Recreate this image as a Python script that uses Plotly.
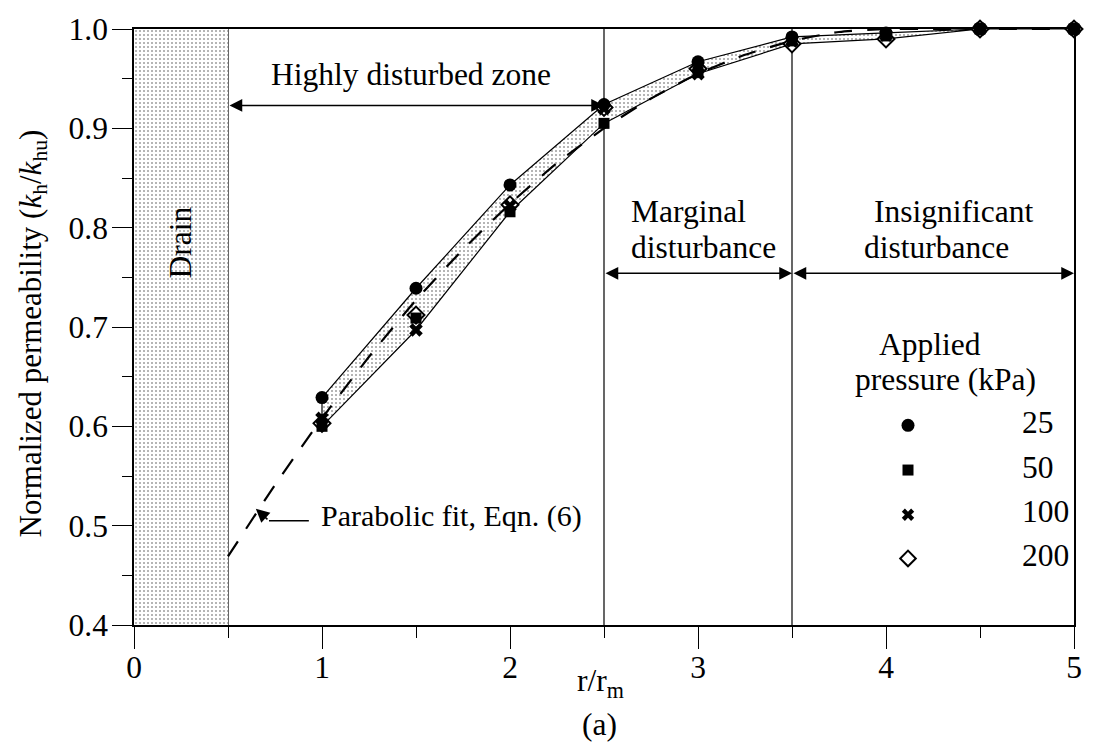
import plotly.graph_objects as go
import numpy as np

# ---------------- data ----------------
r_ratio = [1.0, 1.5, 2.0, 2.5, 3.0, 3.5, 4.0, 4.5, 5.0]
k_25 = [0.629, 0.739, 0.843, 0.924, 0.967, 0.992, 0.996, 1.000, 1.000]
k_50 = [0.600, 0.709, 0.816, 0.905, 0.957, 0.988, 0.993, 1.000, 1.000]
k_100 = [0.608, 0.697, 0.822, 0.920, 0.955, 0.988, 0.994, 1.000, 1.000]
k_200 = [0.603, 0.712, 0.823, 0.921, 0.960, 0.985, 0.990, 1.000, 1.000]

fit_x = [0.5, 0.75, 1.0, 1.25, 1.5, 1.75, 2.0, 2.25, 2.5, 2.75, 3.0, 3.25, 3.5, 3.75, 4.0, 4.5, 5.0]
fit_y = [0.469, 0.541, 0.608, 0.670, 0.727, 0.778, 0.824, 0.865, 0.900, 0.930, 0.955, 0.974, 0.988, 0.997, 1.000, 1.000, 1.000]

drain_x = [0.0, 0.5]
zone_bounds = [0.5, 2.5, 3.5, 5.0]
pressures = ["25", "50", "100", "200"]

x_ticks = [0, 1, 2, 3, 4, 5]
y_ticks = [0.4, 0.5, 0.6, 0.7, 0.8, 0.9, 1.0]

# ---------------- style ----------------
FONT = "Liberation Serif"
FS = 31.5
BLACK = "black"
Y0, Y1 = 0.4, 1.0

fig = go.Figure()

stipple = dict(shape=".", fgcolor="#333333", bgcolor="white", size=4, solidity=0.09, fillmode="replace")

# drain zone
fig.add_trace(go.Scatter(
    x=[drain_x[0], drain_x[1], drain_x[1], drain_x[0], drain_x[0]],
    y=[Y0, Y0, Y1, Y1, Y0],
    mode="none", fill="toself", fillpattern=stipple, fillcolor="rgba(0,0,0,0)",
    showlegend=False, hoverinfo="skip"))

# band between min and max
allk = np.array([k_25, k_50, k_100, k_200])
upper = allk.max(axis=0)
lower = allk.min(axis=0)
band_x = list(r_ratio) + list(r_ratio[::-1]) + [r_ratio[0]]
band_y = list(upper) + list(lower[::-1]) + [upper[0]]
fig.add_trace(go.Scatter(
    x=band_x, y=band_y,
    mode="lines", fill="toself", fillpattern=stipple, fillcolor="rgba(0,0,0,0)",
    line=dict(color=BLACK, width=1.2), showlegend=False, hoverinfo="skip"))

# parabolic fit
fig.add_trace(go.Scatter(
    x=fit_x, y=fit_y, mode="lines",
    line=dict(color=BLACK, width=2.2, dash="18px,15px", shape="spline", smoothing=0.6),
    showlegend=False, hoverinfo="skip"))

# markers (diamonds underneath)
marker_specs = [
    (k_200, dict(symbol="diamond", size=13, color="white", line=dict(color=BLACK, width=2))),
    (k_100, dict(symbol="x", size=12, color=BLACK, line=dict(width=0))),
    (k_50, dict(symbol="square", size=11, color=BLACK, line=dict(width=0))),
    (k_25, dict(symbol="circle", size=13, color=BLACK, line=dict(width=0))),
]
for vals, mk in marker_specs:
    fig.add_trace(go.Scatter(x=r_ratio, y=vals, mode="markers", marker=mk,
                             cliponaxis=False, showlegend=False))

# manual legend
leg_x = 4.117
leg_text_x = 4.715
leg_y = [0.601, 0.556, 0.511, 0.467]
leg_specs = [
    dict(symbol="circle", size=13, color=BLACK, line=dict(width=0)),
    dict(symbol="square", size=11, color=BLACK, line=dict(width=0)),
    dict(symbol="x", size=11, color=BLACK, line=dict(width=0)),
    dict(symbol="diamond-open", size=12, color=BLACK, line=dict(color=BLACK, width=2)),
]
for ly, mk, lab in zip(leg_y, leg_specs, pressures):
    fig.add_trace(go.Scatter(x=[leg_x], y=[ly], mode="markers", marker=mk,
                             showlegend=False, hoverinfo="skip"))
    fig.add_annotation(x=leg_text_x, y=ly + 0.003, xref="x", yref="y", text=lab, showarrow=False,
                       xanchor="left", yanchor="middle", font=dict(family=FONT, size=FS, color=BLACK))

fig.add_annotation(x=4.233, y=0.682, xref="x", yref="y", text="Applied", showarrow=False,
                   xanchor="center", yanchor="middle", font=dict(family=FONT, size=FS, color=BLACK))
fig.add_annotation(x=4.318, y=0.647, xref="x", yref="y", text="pressure (kPa)", showarrow=False,
                   xanchor="center", yanchor="middle", font=dict(family=FONT, size=FS, color=BLACK))

# vertical zone lines
for xb in zone_bounds[:3]:
    fig.add_shape(type="line", x0=xb, x1=xb, y0=Y0, y1=Y1, xref="x", yref="y",
                  line=dict(color=BLACK, width=1.2), layer="below")

# double arrows
def darrow(xa, xb, y):
    fig.add_annotation(x=xb, y=y, ax=xa, ay=y, xref="x", yref="y", axref="x", ayref="y",
                       text="", showarrow=True, arrowhead=2, startarrowhead=2, arrowside="end+start",
                       arrowsize=1.7, startarrowsize=1.7, arrowwidth=1.5, arrowcolor=BLACK,
                       standoff=0, startstandoff=0)

darrow(zone_bounds[0], zone_bounds[1], 0.923)
darrow(zone_bounds[1], zone_bounds[2], 0.754)
darrow(zone_bounds[2], zone_bounds[3], 0.754)

def txt(x, y, s, xanchor="center", textangle=0, xref="x", yref="y", size=FS):
    fig.add_annotation(x=x, y=y, xref=xref, yref=yref, text=s, showarrow=False,
                       xanchor=xanchor, yanchor="middle", textangle=textangle,
                       font=dict(family=FONT, size=size, color=BLACK))

txt(1.471, 0.954, "Highly disturbed zone")
txt(2.631, 0.816, "Marginal", xanchor="left")
txt(2.631, 0.780, "disturbance", xanchor="left")
txt(3.925, 0.816, "Insignificant", xanchor="left")
txt(3.872, 0.780, "disturbance", xanchor="left")
txt(0.25, 0.785, "Drain", textangle=-90)
txt(0.983, 0.510, "Parabolic fit, Eqn. (6)", xanchor="left", size=30)

# parabolic pointer
fig.add_shape(type="line", x0=0.718, x1=0.930, y0=0.505, y1=0.505, xref="x", yref="y",
              line=dict(color=BLACK, width=1.5))
fig.add_annotation(x=0.648, y=0.517, ax=0.718, ay=0.505, xref="x", yref="y", axref="x", ayref="y",
                   text="", showarrow=True, arrowhead=2, arrowsize=1.8, arrowwidth=1.5,
                   arrowcolor=BLACK, standoff=0)

# axis titles
txt(-0.108, 0.49, "Normalized permeability (<i>k</i><sub>h</sub>/<i>k</i><sub>hu</sub>)",
    textangle=-90, xref="paper", yref="paper", size=31)
txt(0.496, -0.097, "r/r<sub>m</sub>", xref="paper", yref="paper")
txt(0.495, -0.167, "(a)", xref="paper", yref="paper")

axis_common = dict(showline=True, linecolor=BLACK, linewidth=1.5, mirror=True,
                   showgrid=False, zeroline=False, ticks="outside", tickcolor=BLACK,
                   tickwidth=1.3, tickfont=dict(family=FONT, size=FS, color=BLACK))

fig.update_xaxes(range=[0, 5], tickvals=x_ticks, ticklen=22, ticklabelstandoff=-9,
                 minor=dict(dtick=0.5, tick0=0, ticklen=11, ticks="outside", tickcolor=BLACK,
                            tickwidth=1.3, showgrid=False),
                 **axis_common)
fig.update_yaxes(range=[Y0, Y1], tickvals=y_ticks, tickformat=".1f", ticklen=20, ticklabelstandoff=-2,
                 minor=dict(dtick=0.05, tick0=0.4, ticklen=10, ticks="outside", tickcolor=BLACK,
                            tickwidth=1.3, showgrid=False),
                 **axis_common)

fig.update_layout(
    width=1094, height=744,
    margin=dict(l=134, r=14, t=20, b=119),
    paper_bgcolor="white", plot_bgcolor="white",
    showlegend=False,
    font=dict(family=FONT, size=FS, color=BLACK),
)

fig.write_html("out.html")
